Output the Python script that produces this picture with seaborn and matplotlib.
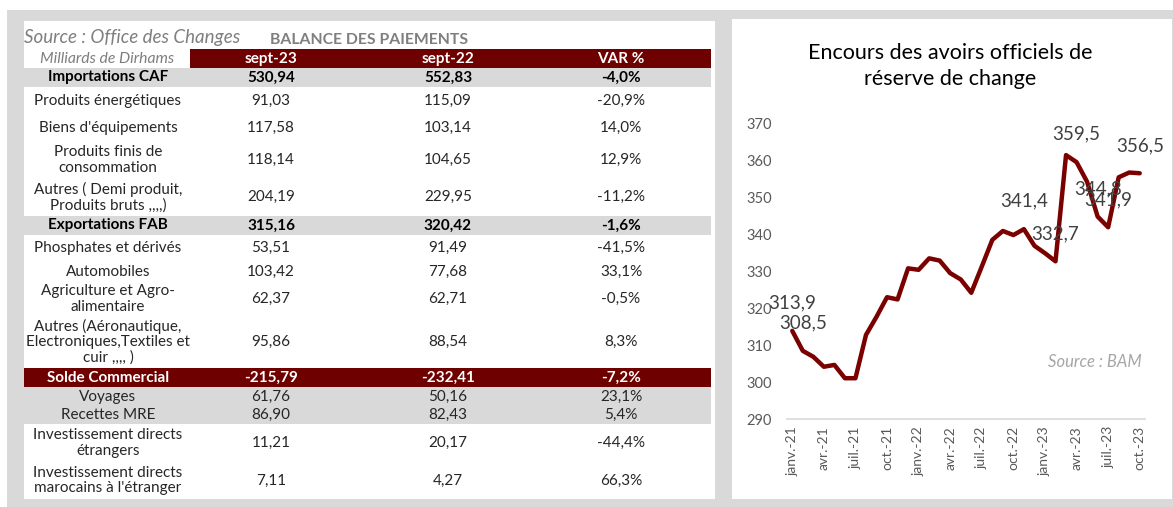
import numpy as np
import pandas as pd
import seaborn as sns
import matplotlib.pyplot as plt
from matplotlib.patches import Rectangle

# ---- table data : balance des paiements (milliards de dirhams)
rubriques = ["Importations CAF", "Produits énergétiques", "Biens d'équipements",
             "Produits finis de\nconsommation", "Autres ( Demi produit,\nProduits bruts ,,,,)",
             "Exportations FAB", "Phosphates et dérivés", "Automobiles",
             "Agriculture et Agro-\nalimentaire",
             "Autres (Aéronautique,\nElectroniques,Textiles et\ncuir ,,,, )",
             "Solde Commercial", "Voyages", "Recettes MRE",
             "Investissement directs\nétrangers", "Investissement directs\nmarocains à l'étranger"]
sept23 = [530.94, 91.03, 117.58, 118.14, 204.19, 315.16, 53.51, 103.42, 62.37, 95.86,
          -215.79, 61.76, 86.90, 11.21, 7.11]
sept22 = [552.83, 115.09, 103.14, 104.65, 229.95, 320.42, 91.49, 77.68, 62.71, 88.54,
          -232.41, 50.16, 82.43, 20.17, 4.27]
var_pct = [-4.0, -20.9, 14.0, 12.9, -11.2, -1.6, -41.5, 33.1, -0.5, 8.3, -7.2, 23.1, 5.4, -44.4, 66.3]
row_style = ["total", "item", "item", "item", "item", "total", "item", "item", "item", "item",
             "solde", "band", "band", "item", "item"]

# ---- line data : encours des avoirs officiels de reserve
mois = ["janv.-21", "févr.-21", "mars-21", "avr.-21", "mai-21", "juin-21",
        "juil.-21", "août-21", "sept.-21", "oct.-21", "nov.-21", "déc.-21",
        "janv.-22", "févr.-22", "mars-22", "avr.-22", "mai-22", "juin-22",
        "juil.-22", "août-22", "sept.-22", "oct.-22", "nov.-22", "déc.-22",
        "janv.-23", "févr.-23", "mars-23", "avr.-23", "mai-23", "juin-23",
        "juil.-23", "août-23", "sept.-23", "oct.-23"]
encours = [313.9, 308.5, 306.9, 304.2, 304.7, 301.1, 301.1, 312.8, 317.7, 323.0, 322.4, 330.8,
           330.4, 333.5, 332.9, 329.5, 327.8, 324.2, 331.3, 338.5, 340.9, 339.8, 341.4, 336.9,
           334.9, 332.7, 361.4, 359.5, 354.2, 344.8, 341.9, 355.4, 356.7, 356.5]
mois_etiquetes = ["janv.-21", "févr.-21", "nov.-22", "févr.-23", "avr.-23", "juin-23", "juil.-23", "oct.-23"]

sns.set_theme(style="white")
plt.rcParams['font.family'] = ['Lato', 'DejaVu Sans']

MAROON = "#6f0000"
LGRAY = "#d9d9d9"

fig = plt.figure(figsize=(11.73, 5.07), dpi=100)
fig.patch.set_facecolor("white")

# background in pixel coordinates
bg = fig.add_axes([0, 0, 1, 1])
bg.set_xlim(0, 1173)
bg.set_ylim(507, 0)
bg.axis("off")
bg.add_patch(Rectangle((7, 10), 1166, 497, color=LGRAY, lw=0))
bg.add_patch(Rectangle((24, 21), 691, 478, color="white", lw=0))
bg.add_patch(Rectangle((732, 19), 440, 480, color="white", lw=0))

# ---- table
bg.text(24, 37, "Source : Office des Changes", fontsize=13.5, style="italic",
        color="#7f7f7f", va="center", ha="left")
bg.text(270, 40, "BALANCE DES PAIEMENTS", fontsize=11.3, fontweight="bold",
        color="#7f7f7f", va="center", ha="left")
bg.add_patch(Rectangle((190, 49), 521, 19, color=MAROON, lw=0))
bg.text(107, 59, "Milliards de Dirhams", fontsize=11.3, style="italic", color="#7f7f7f",
        va="center", ha="center")
col_x = [271, 448, 621]
for x, h in zip(col_x, ["sept-23", "sept-22", "VAR %"]):
    bg.text(x, 59, h, fontsize=11, fontweight="bold", color="white", va="center", ha="center")

edges = [68, 87, 114, 142, 178, 216, 235, 261, 283, 315, 368, 387, 406, 424, 462, 499]
for i, lab in enumerate(rubriques):
    top, bot = edges[i], edges[i + 1]
    yc = (top + bot) / 2
    style = row_style[i]
    if style == "total" or style == "band":
        bg.add_patch(Rectangle((24, top), 687, bot - top, color=LGRAY, lw=0))
    if style == "solde":
        bg.add_patch(Rectangle((24, top), 687, bot - top, color=MAROON, lw=0))
    if style == "total":
        kw = dict(color="black", fontweight="bold")
    elif style == "solde":
        kw = dict(color="white", fontweight="bold")
    else:
        kw = dict(color="#262626")
    vals = [f"{sept23[i]:.2f}".replace(".", ","), f"{sept22[i]:.2f}".replace(".", ","),
            f"{var_pct[i]:.1f}%".replace(".", ",")]
    bg.text(108, yc, lab, fontsize=11, ha="center", va="center", linespacing=1.1, **kw)
    for x, v in zip(col_x, vals):
        bg.text(x, yc, v, fontsize=11, ha="center", va="center", **kw)

# ---- line chart
fig.text(950 / 1173, 1 - 66 / 507, "Encours des avoirs officiels de\nréserve de change",
         fontsize=15.5, ha="center", va="center", color="black", linespacing=1.35)

ax = fig.add_axes([787 / 1173, 1 - 419.3 / 507, 358 / 1173, 296 / 507])
ax.set_facecolor("none")
df = pd.DataFrame({"idx": np.arange(len(mois)), "mois": mois, "encours": encours})
sns.lineplot(data=df, x="idx", y="encours", ax=ax, color="#7b0000", lw=3.2)
ax.set_xlim(-0.5, len(mois) - 0.5)
ax.set_ylim(290, 370)
ax.set_yticks(np.arange(290, 371, 10))
ax.set_xticks(df["idx"][::3])
ax.set_xticklabels(df["mois"][::3], rotation=90)
ax.set_xticks(np.arange(-0.5, len(mois), 3), minor=True)
ax.tick_params(axis="x", which="major", length=0, pad=5, labelsize=10, labelcolor="#595959")
ax.tick_params(axis="x", which="minor", length=5, width=1, color=LGRAY, direction="out")
ax.tick_params(axis="y", length=0, pad=11, labelsize=10.5, labelcolor="#595959")
ax.set_xlabel("")
ax.set_ylabel("")
for s in ["left", "right", "top"]:
    ax.spines[s].set_visible(False)
ax.spines["bottom"].set_color(LGRAY)
ax.spines["bottom"].set_linewidth(1.2)

for _, r in df[df["mois"].isin(mois_etiquetes)].iterrows():
    ax.annotate(f"{r['encours']:.1f}".replace(".", ","), (r["idx"], r["encours"]),
                xytext=(0, 20), textcoords="offset points", ha="center", va="center",
                fontsize=13.5, color="#404040")

ax.text(0.99, 0.194, "Source : BAM", transform=ax.transAxes, fontsize=12, style="italic",
        color="#a6a6a6", ha="right", va="center")

fig.savefig("out.png", dpi=100)
